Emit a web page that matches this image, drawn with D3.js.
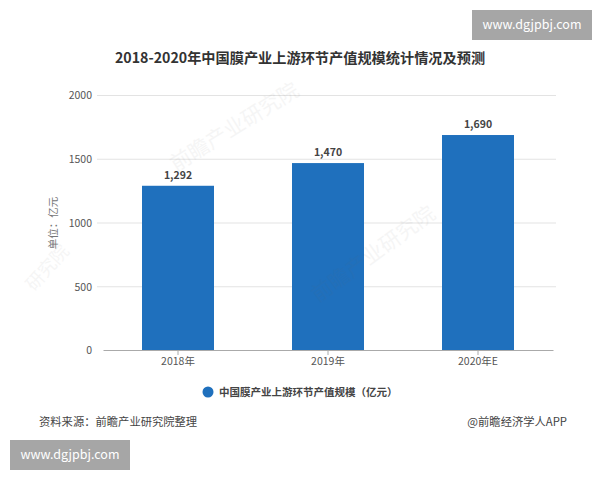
<!DOCTYPE html>
<html>
  <head>
    <meta charset="UTF-8" />
    <title>中国膜产业上游环节产值规模</title>
    <script src="https://d3js.org/d3.v7.min.js"></script>
    <style>
      html, body { margin: 0; padding: 0; background: #fff; }
      svg { display: block; }
      text { font-family: "Noto Sans CJK SC", "Noto Sans", sans-serif; }
      .grid line { stroke: #e3e3e3; stroke-width: 1px; }
    </style>
  </head>
  <body>
    <svg id="chart" width="600" height="480"></svg>

    <script>
      // values
      const years = ['2018年', '2019年', '2020年E'];
      const output = [1292, 1470, 1690];
      const yTicks = [0, 500, 1000, 1500, 2000];

      const svg = d3.select('#chart');

      const x = d3.scaleBand().domain(years).range([103, 553]).paddingInner(0.52).paddingOuter(0.26);
      const y = d3.scaleLinear().domain([0, 2000]).range([350.5, 95.5]);

      // title
      svg.append('text')
        .attr('x', 300).attr('y', 63)
        .attr('text-anchor', 'middle')
        .attr('font-size', 14.2)
        .attr('font-weight', 700)
        .attr('fill', '#333')
        .text('2018-2020年中国膜产业上游环节产值规模统计情况及预测');

      // gridlines
      svg.append('g')
        .attr('class', 'grid')
        .selectAll('line')
        .data(yTicks.slice(1))
        .enter()
        .append('line')
        .attr('x1', 97).attr('x2', 556)
        .attr('y1', (d) => y(d)).attr('y2', (d) => y(d));

      // y tick labels
      const yAxis = svg.append('g')
        .attr('transform', 'translate(97,0)')
        .call(d3.axisLeft(y).tickValues(yTicks).tickFormat(d3.format('d')).tickSize(0).tickPadding(5));
      yAxis.select('.domain').remove();
      yAxis.selectAll('text').attr('font-size', 10.5).attr('fill', '#555');

      // y title
      svg.append('text')
        .attr('transform', 'translate(57,223) rotate(-90)')
        .attr('text-anchor', 'middle')
        .attr('font-size', 10.5)
        .attr('fill', '#777')
        .text('单位：亿元');

      // bars
      svg.selectAll('rect.bar')
        .data(output)
        .enter()
        .append('rect')
        .attr('class', 'bar')
        .attr('x', (d, i) => x(years[i]))
        .attr('y', (d) => y(d))
        .attr('width', x.bandwidth())
        .attr('height', (d) => y(0) - y(d))
        .attr('fill', '#1f70bd');

      // value labels
      svg.selectAll('text.val')
        .data(output)
        .enter()
        .append('text')
        .attr('class', 'val')
        .attr('x', (d, i) => x(years[i]) + x.bandwidth() / 2)
        .attr('y', (d) => y(d) - 7)
        .attr('text-anchor', 'middle')
        .attr('font-size', 10.5)
        .attr('font-weight', 700)
        .attr('fill', '#444')
        .text(d3.format(','));

      // x axis
      const xAxis = svg.append('g')
        .attr('transform', 'translate(0,350)')
        .call(d3.axisBottom(x).tickSize(5).tickSizeOuter(0).tickPadding(3));
      xAxis.select('.domain').attr('stroke', '#aaa');
      xAxis.selectAll('line').attr('stroke', '#aaa');
      xAxis.selectAll('text').attr('font-size', 10.5).attr('fill', '#555');

      // faint watermarks, they sit over the bars too
      const marks = [
        [176, 172, 21, -32, '前瞻产业研究院'],
        [318, 303, 21, -36, '前瞻产业研究院'],
        [34, 292, 18, -48, '研究院']
      ];
      svg.selectAll('text.wm')
        .data(marks)
        .enter()
        .append('text')
        .attr('class', 'wm')
        .attr('transform', (d) => `translate(${d[0]},${d[1]}) rotate(${d[3]})`)
        .attr('font-size', (d) => d[2])
        .attr('fill', '#666')
        .attr('opacity', 0.06)
        .text((d) => d[4]);

      // legend
      svg.append('circle').attr('cx', 208).attr('cy', 392).attr('r', 5.5).attr('fill', '#1f70bd');
      svg.append('text')
        .attr('x', 219).attr('y', 396)
        .attr('font-size', 10.5)
        .attr('font-weight', 700)
        .attr('fill', '#444')
        .text('中国膜产业上游环节产值规模（亿元）');

      // footer
      svg.append('text')
        .attr('x', 39).attr('y', 426)
        .attr('font-size', 11.3)
        .attr('fill', '#444')
        .text('资料来源：前瞻产业研究院整理');
      svg.append('text')
        .attr('x', 567).attr('y', 426)
        .attr('text-anchor', 'end')
        .attr('font-size', 11.3)
        .attr('fill', '#444')
        .text('@前瞻经济学人APP');

      // site stamps
      const stamps = [[472, 10], [10, 440]];
      svg.selectAll('rect.stamp')
        .data(stamps)
        .enter()
        .append('rect')
        .attr('class', 'stamp')
        .attr('x', (d) => d[0]).attr('y', (d) => d[1])
        .attr('width', 120).attr('height', 30)
        .attr('fill', '#a6a6a6');
      svg.selectAll('text.stamp')
        .data(stamps)
        .enter()
        .append('text')
        .attr('class', 'stamp')
        .attr('x', (d) => d[0] + 60).attr('y', (d) => d[1] + 19)
        .attr('text-anchor', 'middle')
        .attr('font-size', 12.5)
        .attr('fill', '#fff')
        .text('www.dgjpbj.com');
    </script>
  </body>
</html>
